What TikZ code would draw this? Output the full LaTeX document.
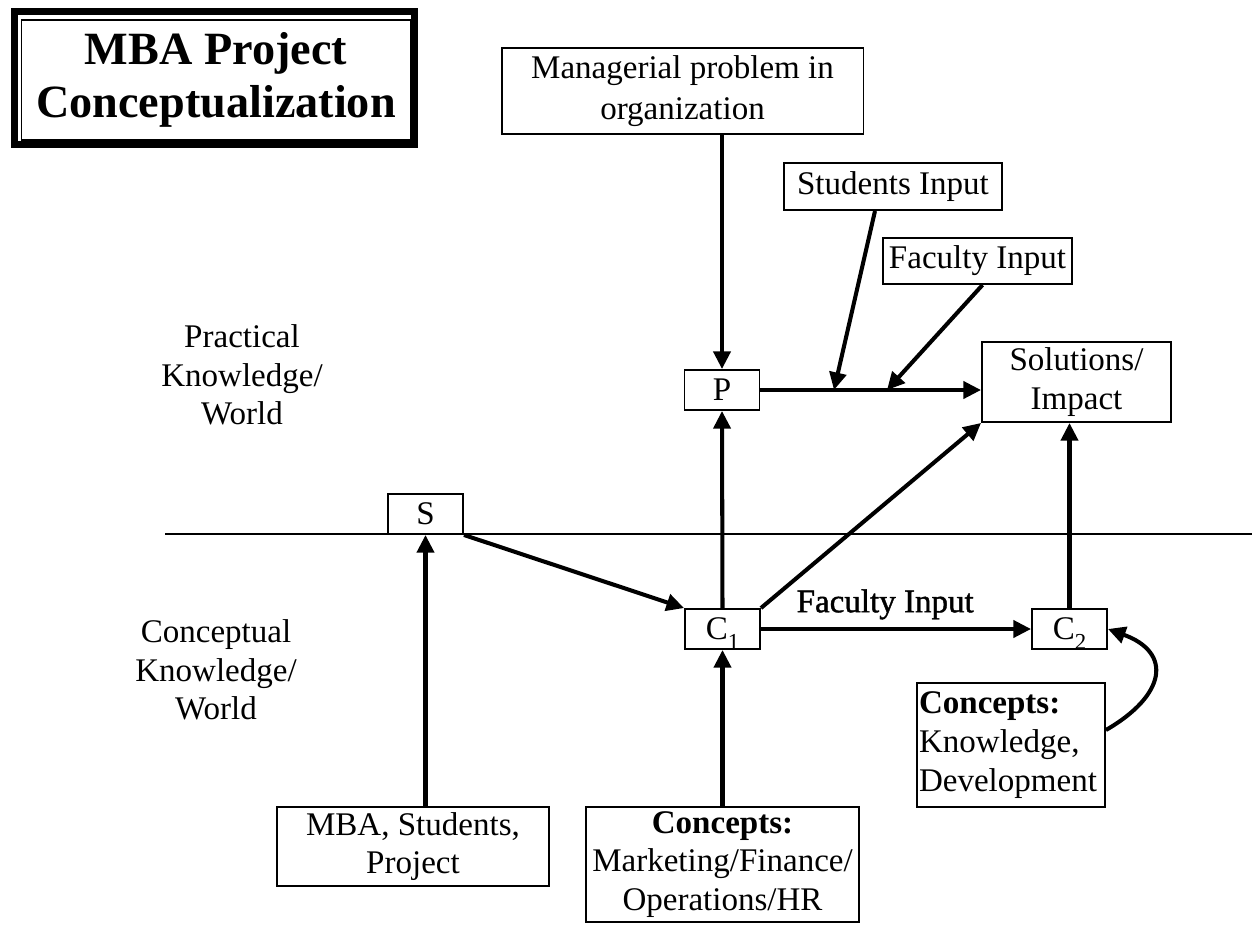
\documentclass[tikz,border=0pt]{standalone}
\usepackage{fontspec}
\setmainfont{Liberation Serif}
\newfontfamily\heavyfont[FakeBold=1.2]{Liberation Serif}
\usetikzlibrary{arrows.meta,calc}
\newcommand\lblsize{\fontsize{18.8}{22}\selectfont}
\newcommand\sub[1]{\raisebox{-5.5pt}[0pt][0pt]{\fontsize{13}{13}\selectfont #1}}
\tikzset{
  box/.style={shape=rectangle,draw=black,line width=1.1pt,inner sep=0pt,align=center},
  small/.style={box,minimum width=1.5cm,minimum height=0.8cm},
  link/.style={line width=2.3pt,-{Triangle[length=10pt,width=9.6pt]}},
}
\begin{document}
\begin{tikzpicture}[x=0.02cm,y=-0.02cm,font=\lblsize]
\useasboundingbox (0,0) rectangle (1252,924);

% title frame
\draw[line width=0.14cm] (14.5,11.5) rectangle (414.5,144.5);
\node[box,line width=0.6pt,minimum width=7.8cm,minimum height=2.4cm,font=\fontsize{26.3}{30}\selectfont\bfseries] (title) at (216,80) {MBA Project\\Conceptualization};

% the two worlds
\coordinate (lineL) at (165,534);
\coordinate (lineR) at (1252,534);
\draw[line width=1.1pt] (lineL) -- (lineR);
\node[align=center] (prac) at (242,375) {Practical\\Knowledge/\\World};
\node[align=center] (conc) at (216,670) {Conceptual\\Knowledge/\\World};

\node[box,minimum width=7.24cm,minimum height=1.72cm,font=\fontsize{18.8}{23.3}\selectfont] (mgr) at (682.5,91) {Managerial problem in\\organization};
\node[box,minimum width=4.36cm,minimum height=0.94cm] (stud) at (893,186.5) {Students Input};
\node[box,minimum width=3.78cm,minimum height=0.92cm] (fac) at (977.5,261) {Faculty Input};
\node[box,minimum width=3.78cm,minimum height=1.6cm] (sol) at (1076.5,382) {Solutions/\\Impact};
\node[small] (P) at (722,390) {P};
\node[small] (S) at (425.5,514) {S};
\node[small] (C1) at (722.5,629) {C\sub{1}};
\node[small] (C2) at (1069.5,629) {C\sub{2}};
\node[box,minimum width=5.44cm,minimum height=1.58cm] (mba) at (413,846.5) {MBA, Students,\\Project};
\node[box,minimum width=5.46cm,minimum height=2.3cm] (conM) at (722.5,864.5) {\textbf{Concepts:}\\Marketing/Finance/\\Operations/HR};
\node[box,align=left,inner xsep=0.04cm,text width=3.68cm,minimum height=2.48cm] (conK) at (1011,745) {\textbf{Concepts:}\\Knowledge,\\Development};

\coordinate (sJoin) at (834,390);
\coordinate (fJoin) at (887,390);

\draw[link] (P.north |- mgr.south) -- (P.north);
\draw[link] (C1.north) -- (P.south);
\draw[link] (P.east) -- (P.east -| sol.west);
\draw[link] ([xshift=-0.36cm]stud.south) -- (sJoin);
\draw[link] ([xshift=0.1cm]fac.south) -- (fJoin);
\draw[link] (S.south east) -- (C1.north west);
\draw[link] (S.south |- mba.north) -- (S.south);
\draw[link] (C1.north east) -- (sol.south west);
\draw[link] (C1.east) -- (C2.west) node[pos=0.46,above=1pt,font=\heavyfont\lblsize] (facLbl) {Faculty Input};
\draw[link] (C2.north) -- (C2.north |- sol.south);
\draw[link] (C1.south |- conM.north) -- (C1.south);
\draw[link] ([yshift=0.3cm]conK.east) to[out=30,in=-20,looseness=1.75] (C2.east);
\end{tikzpicture}
\end{document}
